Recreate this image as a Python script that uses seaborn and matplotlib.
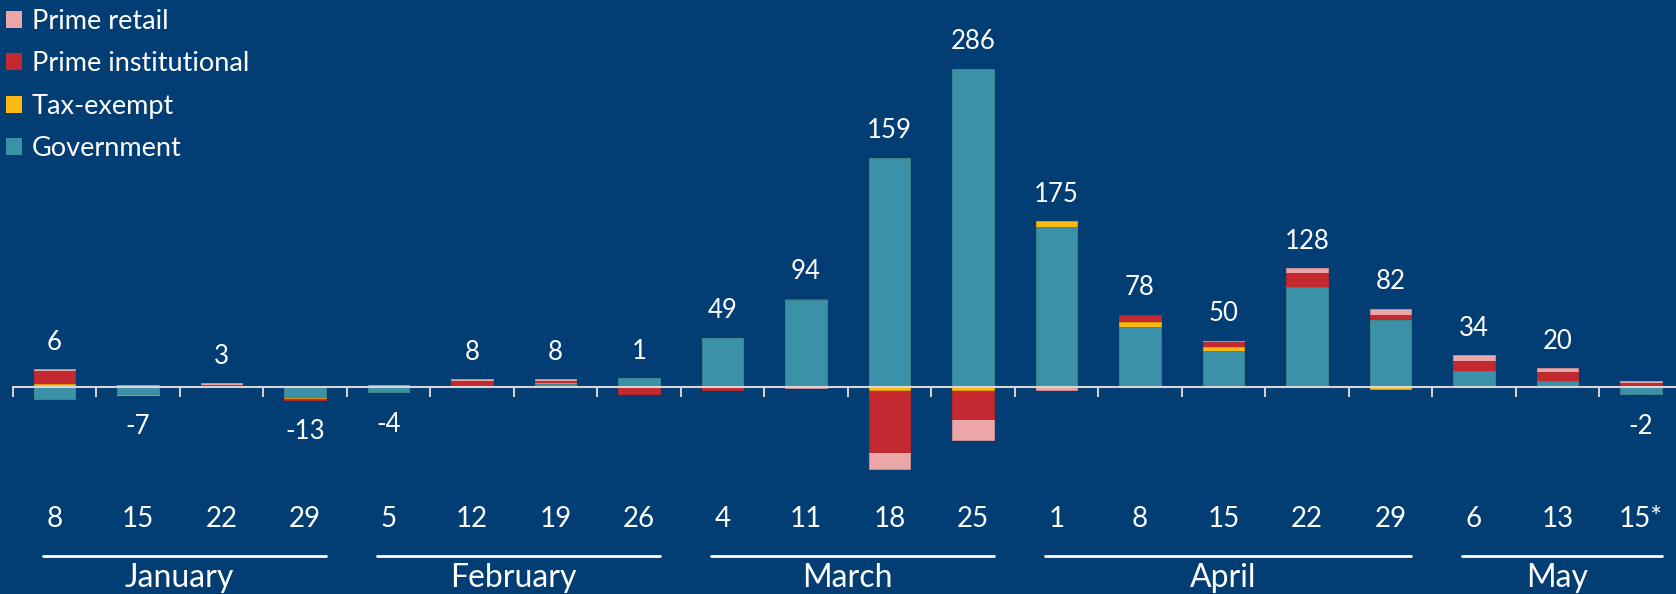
import numpy as np
import pandas as pd
import matplotlib
matplotlib.use("Agg")
import matplotlib.pyplot as plt
import matplotlib.transforms as mtransforms
from matplotlib.patches import Patch
import seaborn as sns

# ---------------- data ----------------
months = ["January", "February", "March", "April", "May"]
week_month = ["January"] * 4 + ["February"] * 4 + ["March"] * 4 + ["April"] * 5 + ["May"] * 3
day_labels = ["8", "15", "22", "29", "5", "12", "19", "26", "4", "11", "18", "25",
              "1", "8", "15", "22", "29", "6", "13", "15*"]

government   = [-13, -8, 0, -11, -6, 0, 3, 9, 53, 94, 248, 344, 173, 65, 39, 108, 72, 17.5, 6, -8]
tax_exempt   = [3, -0.5, -0.5, -1, 0, 0, 1, 0, 0, 0, -4, -4, 6, 5.5, 3.5, 0, -2.5, 0, 0, 0]
prime_inst   = [14, 0, 1.5, -2, 0.5, 6, 2, -8, -4, 1, -67, -31, 0, 7.5, 5.5, 15.5, 6, 10, 9.5, 4.5]
prime_retail = [2, 1.5, 2, 1, 1.5, 2, 2, 0, 0, -1, -18, -23, -4, 0, 2, 4.5, 6.5, 6.5, 4.5, 1.5]
net_labels   = [6, -7, 3, -13, -4, 8, 8, 1, 49, 94, 159, 286, 175, 78, 50, 128, 82, 34, 20, -2]

series_names = ["Prime retail", "Prime institutional", "Tax-exempt", "Government"]

# ---------------- style ----------------
BG = "#023d74"
C_GOV = "#3b91a7"
C_TAX = "#fdb913"
C_INST = "#c3292e"
C_RET = "#eba6a7"
AXIS_C = "#d6d6d6"

sns.set_style("white")
plt.rcParams["font.family"] = ["Lato", "DejaVu Sans"]

keys = [f"{m[:3]} {d}" for m, d in zip(week_month, day_labels)]
df = pd.DataFrame({
    "week": keys,
    "gov": government,
    "tax": tax_exempt,
    "inst": prime_inst,
    "ret": prime_retail,
})

# stacked cumulative values (positive and negative stacks separately)
order_cols = ["gov", "tax", "inst", "ret"]
pos = df[order_cols].clip(lower=0).cumsum(axis=1)
neg = df[order_cols].clip(upper=0).cumsum(axis=1)

fig = plt.figure(figsize=(16.76, 5.94), dpi=100, facecolor=BG)
ax = fig.add_axes([12.7 / 1676, 0.0, 1670 / 1676, 1.0])
ax.set_facecolor(BG)

colors = {"gov": C_GOV, "tax": C_TAX, "inst": C_INST, "ret": C_RET}
edges = {"gov": "#2f7f94", "tax": "#e0a000", "inst": "#a82226", "ret": "#d58f90"}

for stack in (pos, neg):
    for col in reversed(order_cols):
        sns.barplot(x=df["week"], y=stack[col], color=colors[col], saturation=1,
                    width=0.5, errorbar=None, ax=ax, order=keys,
                    edgecolor=edges[col], linewidth=0.6)

k = 0.924  # px per unit
ax.set_xlim(-0.5, 19.5)
ax.set_ylim(-(594 - 386.7) / k, 386.7 / k)
ax.set_xlabel("")
ax.set_ylabel("")
ax.set_yticks([])

for s in ["top", "left", "right"]:
    ax.spines[s].set_visible(False)
ax.spines["bottom"].set_position(("data", 0))
ax.spines["bottom"].set_color(AXIS_C)
ax.spines["bottom"].set_linewidth(1.5)
ax.spines["bottom"].set_zorder(5)

ax.set_xticks(np.arange(len(keys)))
ax.set_xticklabels(day_labels)
ax.set_xticks(np.arange(-0.5, len(keys), 1), minor=True)
ax.tick_params(axis="x", which="major", bottom=True, length=0, pad=86, labelsize=20,
               labelcolor="white")
ax.tick_params(axis="x", which="minor", bottom=True, length=7.2, width=1.4, color=AXIS_C,
               direction="out")

# net total labels
pos_top = pos["ret"].values
neg_bot = neg["ret"].values
for i, v in enumerate(net_labels):
    if v >= 0:
        ax.annotate(f"{v}", (i, pos_top[i]), xytext=(0, 19.5), textcoords="offset points",
                    ha="center", va="center", color="white", fontsize=18.5, annotation_clip=False)
    else:
        ax.annotate(f"{v}", (i, neg_bot[i]), xytext=(0, -23), textcoords="offset points",
                    ha="center", va="center", color="white", fontsize=18.5, annotation_clip=False)

# month group lines and names
trans = mtransforms.blended_transform_factory(ax.transData, ax.transAxes)
idx = np.arange(len(keys))
wm = np.array(week_month)
for m in months:
    ii = idx[wm == m]
    x0 = ii.min() - 0.5 + 0.36
    x1 = ii.max() + 0.5 - 0.25
    ax.plot([x0, x1], [1 - 556 / 594] * 2, color="white", lw=2, transform=trans, clip_on=False)
    ax.text(ii.mean(), 1 - 587 / 594, m, transform=trans, ha="center", va="baseline",
            color="white", fontsize=23)

# legend
handles = [Patch(facecolor=c, edgecolor="none") for c in [C_RET, C_INST, C_TAX, C_GOV]]
leg = ax.legend(handles, series_names, loc="upper left", bbox_to_anchor=(6 / 1676, 1 - 9 / 594),
                bbox_transform=fig.transFigure, frameon=False, fontsize=19.5,
                handlelength=0.58, handleheight=0.58, handletextpad=0.38,
                labelspacing=0.64, borderpad=0, borderaxespad=0, labelcolor="white")

fig.savefig("out.png", dpi=100, facecolor=BG)
